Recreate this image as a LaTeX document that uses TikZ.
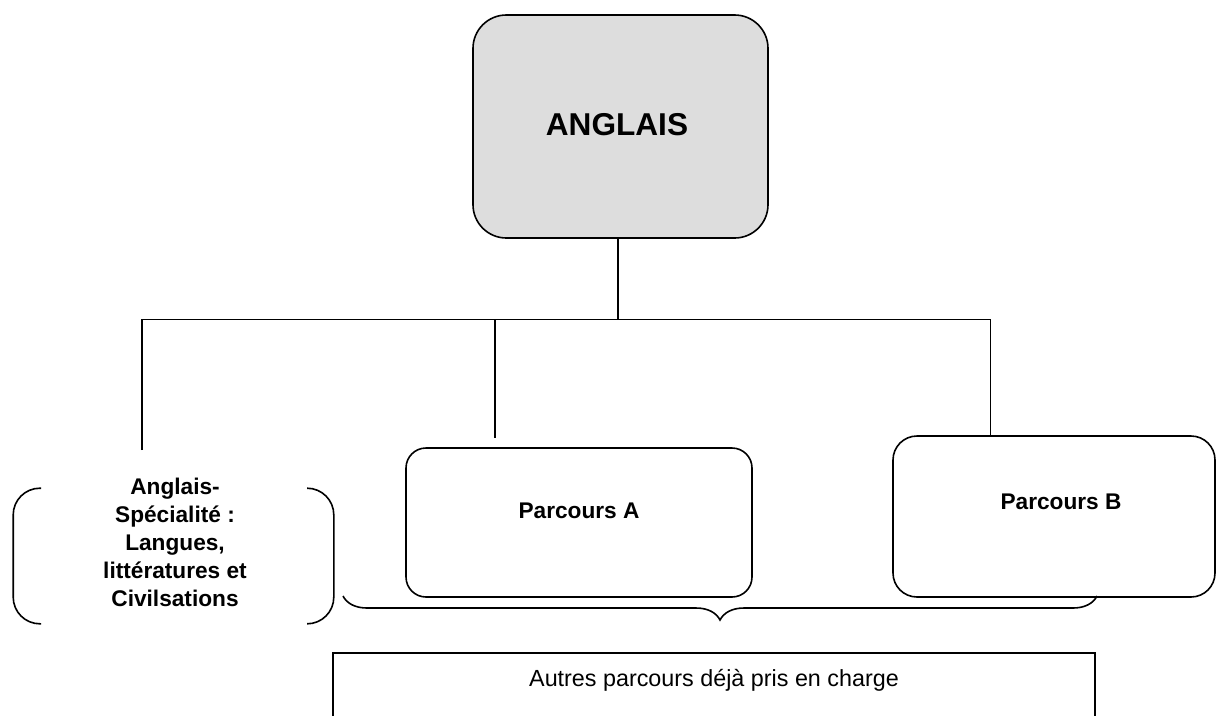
\documentclass[tikz,border=0pt]{standalone}
\usepackage{fontspec}
\setmainfont{Liberation Sans}
\usetikzlibrary{decorations.pathreplacing}
\definecolor{angfill}{RGB}{221,221,221}
\begin{document}
\begin{tikzpicture}[x=0.75pt,y=-0.75pt,line width=1.2pt,
  rbox/.style={draw, rounded corners=#1, inner sep=0pt},
  lab/.style={font=\bfseries\fontsize{17}{21}\selectfont, inner sep=0pt},
  plain/.style={font=\fontsize{17.5}{21}\selectfont, inner sep=0pt}]
\path[use as bounding box, clip] (0,0) rectangle (1216,715);

% top box
\node[rbox=25pt, fill=angfill, minimum width=221.25pt, minimum height=167.25pt] (ang) at (620.5,126.5) {};
\node[lab, font=\bfseries\fontsize{23.7}{28}\selectfont, anchor=base] (angt) at (617,135) {ANGLAIS};

% Parcours A
\node[rbox=15pt, minimum width=259.5pt, minimum height=111.75pt] (pa) at (579,522.5) {};
\node[lab, anchor=base] (pat) at (579,518) {Parcours A};

% Parcours B
\node[rbox=18pt, minimum width=241.5pt, minimum height=120.75pt] (pb) at (1054,516.5) {};
\node[lab, anchor=base] (pbt) at (1061,509) {Parcours B};

% Speciality (bracketed)
\node[inner sep=0pt, minimum width=239.25pt, minimum height=100.5pt] (spec) at (173.5,556) {};
\node[lab, align=center] (spect) at (175,542.75) {Anglais-\\Spécialité :\\Langues,\\littératures et\\Civilsations};
\draw[rounded corners=20pt] ([xshift=21pt]spec.north west) -- (spec.north west) -- (spec.south west) -- ([xshift=21pt]spec.south west);
\draw[rounded corners=20pt] ([xshift=-19.5pt]spec.north east) -- (spec.north east) -- (spec.south east) -- ([xshift=-19.5pt]spec.south east);

% brace
\coordinate (b1) at (343,596);
\coordinate (b2) at (1097,596);
\draw[decorate, decoration={brace, mirror, amplitude=18pt}] (b1) -- (b2);

% bottom box
\node[draw, inner sep=0pt, minimum width=571.5pt, minimum height=80.25pt] (other) at (714,706.5) {};
\node[plain, anchor=base] (othert) at (714,686) {Autres parcours déjà pris en charge};

% tree connectors
\coordinate (j) at (618,319.5);
\coordinate (hl) at (142,319.5);
\coordinate (hr) at (990.5,319.5);
\coordinate (lend) at (142,450);
\coordinate (mtop) at (495,319.5);
\coordinate (mend) at (495,438);
\draw (j |- ang.south) -- (j);
\draw (lend) -- (hl) -- (hr) -- (hr |- pb.north);
\draw (mtop) -- (mend);
\end{tikzpicture}
\end{document}
